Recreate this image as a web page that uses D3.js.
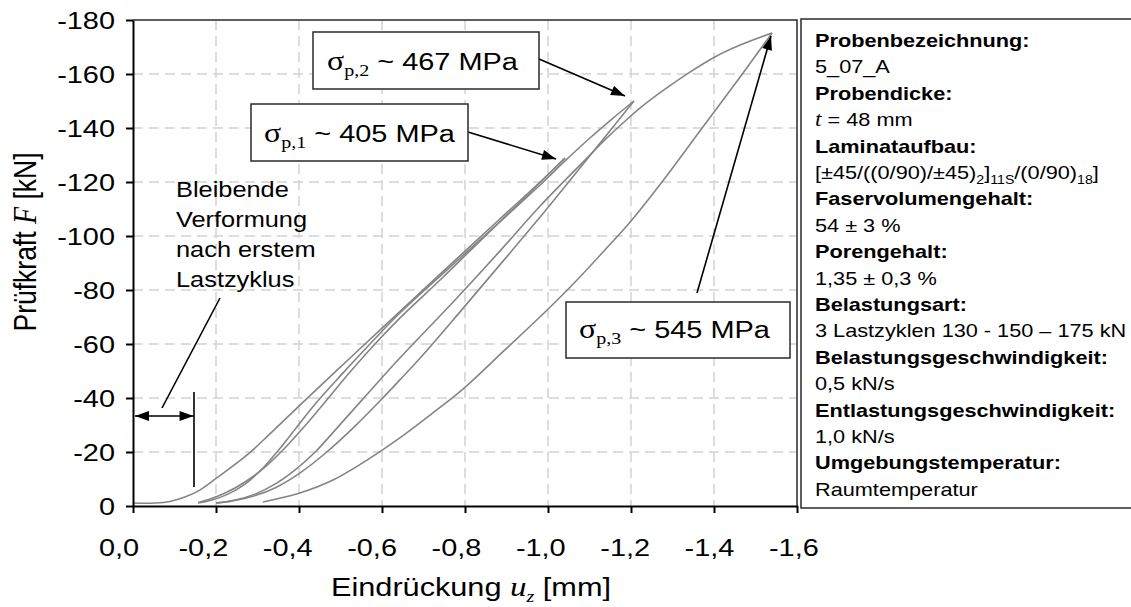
<!DOCTYPE html>
<html><head><meta charset="utf-8">
<script src="https://cdn.jsdelivr.net/npm/d3@7"></script>
<style>body{margin:0;background:#fff}svg{display:block}</style>
</head><body>
<svg id="chart" width="1131" height="607"></svg>
<script>
// ---------- data ----------
const xTicks = [0, -0.2, -0.4, -0.6, -0.8, -1.0, -1.2, -1.4, -1.6];
const yTicks = [0, -20, -40, -60, -80, -100, -120, -140, -160, -180];

// [u_z (mm), F (kN)]
const loading1 = [[0,-1.1],[-0.053,-1.1],[-0.089,-1.7],[-0.125,-3.3],[-0.161,-5.9],[-0.202,-10.4],[-0.275,-18.9],[-0.330,-26.7],[-0.410,-38.5],[-0.523,-54.8],[-0.643,-72.0],[-0.764,-89.3],[-0.884,-106.3],[-0.981,-120.0],[-1.041,-128.9]];
const unloading1 = [[-1.041,-128.9],[-0.933,-112.6],[-0.836,-98.1],[-0.740,-83.7],[-0.643,-69.6],[-0.583,-60.0],[-0.523,-49.6],[-0.467,-39.3],[-0.414,-29.6],[-0.366,-21.5],[-0.318,-14.4],[-0.270,-8.9],[-0.222,-4.8],[-0.186,-2.6],[-0.157,-1.3]];
const loading2 = [[-0.157,-1.1],[-0.190,-2.2],[-0.229,-4.4],[-0.270,-8.1],[-0.311,-13.7],[-0.347,-20.0],[-0.393,-28.9],[-0.439,-37.8],[-0.499,-48.1],[-0.571,-60.0],[-0.643,-71.5],[-0.764,-88.5],[-0.884,-105.2],[-0.981,-118.9],[-1.041,-127.8],[-1.101,-136.3],[-1.154,-143.3],[-1.207,-150.0]];
const unloading2 = [[-1.207,-150.0],[-1.149,-138.9],[-1.077,-125.2],[-0.981,-107.0],[-0.884,-89.3],[-0.788,-71.9],[-0.692,-54.8],[-0.643,-46.7],[-0.595,-38.9],[-0.535,-29.6],[-0.467,-20.0],[-0.402,-12.2],[-0.342,-6.7],[-0.282,-3.3],[-0.234,-1.7],[-0.200,-1.1]];
const loading3 = [[-0.200,-1.1],[-0.246,-2.2],[-0.294,-4.4],[-0.342,-8.1],[-0.390,-13.3],[-0.439,-20.0],[-0.494,-29.3],[-0.552,-39.3],[-0.643,-54.8],[-0.776,-76.3],[-0.884,-94.4],[-0.981,-111.1],[-1.089,-128.1],[-1.137,-135.6],[-1.186,-142.6],[-1.234,-148.9],[-1.282,-154.4],[-1.342,-160.7],[-1.402,-166.3],[-1.463,-170.7],[-1.540,-175.2]];
const unloading3 = [[-1.540,-175.2],[-1.463,-158.9],[-1.366,-138.9],[-1.282,-121.5],[-1.198,-105.2],[-1.137,-94.8],[-1.070,-83.7],[-0.998,-72.6],[-0.896,-57.8],[-0.795,-43.3],[-0.716,-33.7],[-0.643,-25.2],[-0.564,-17.0],[-0.482,-9.6],[-0.402,-4.8],[-0.313,-1.5]];
const curves = [loading1, unloading1, loading2, unloading2, loading3, unloading3];

const legendLabels = ["Probenbezeichnung:", "Probendicke:", "Laminataufbau:", "Faservolumengehalt:", "Porengehalt:", "Belastungsart:", "Belastungsgeschwindigkeit:", "Entlastungsgeschwindigkeit:", "Umgebungstemperatur:"];
// value lines as segments [text, style]; style: "" normal, "it" italic serif, "sub" subscript
const legendValues = [
  [["5_07_A",""]],
  [["t","it"],[" = 48 mm",""]],
  [["[±45/((0/90)/±45)",""],["2","sub"],["]",""],["11S","sub"],["/(0/90)",""],["18","sub"],["]",""]],
  [["54 ± 3 %",""]],
  [["1,35 ± 0,3 %",""]],
  [["3 Lastzyklen 130 - 150 – 175 kN",""]],
  [["0,5 kN/s",""]],
  [["1,0 kN/s",""]],
  [["Raumtemperatur",""]]
];
const stressLabels = [["p,2","~ 467 MPa"],["p,1","~ 405 MPa"],["p,3","~ 545 MPa"]];
const noteLines = ["Bleibende","Verformung","nach erstem","Lastzyklus"];

(function () {
// ---------- layout ----------
const SX = 1.18;           // horizontal text stretch of the original
const SANS = '"Liberation Sans", Arial, sans-serif';
const SERIF = '"Liberation Serif", "Times New Roman", serif';
const pL = 133, pR = 797, pT = 20, pB = 506;

const svg = d3.select('#chart');
const x = d3.scaleLinear().domain([0, -1.6]).range([pL, pR]);
const y = d3.scaleLinear().domain([0, -180]).range([pB, pT]);

function textAt(parent, px, py, size, opts = {}) {
  const g = parent.append('g').attr('transform', `translate(${px},${py}) scale(${SX},1)` + (opts.rotate ? ` rotate(${opts.rotate})` : ''));
  return g.append('text')
    .attr('text-anchor', opts.anchor || 'start')
    .style('font-family', opts.family || SANS)
    .style('font-size', size + 'px')
    .style('font-weight', opts.weight || 'normal')
    .attr('fill', '#000');
}

// grid
const grid = svg.append('g');
grid.selectAll('.gy').data(yTicks.filter(d => d !== 0 && d !== -180)).join('line')
  .attr('x1', pL).attr('x2', pR).attr('y1', d => y(d)).attr('y2', d => y(d))
  .attr('stroke', '#d2d2d2').attr('stroke-width', 1.5).attr('stroke-dasharray', '10,6');
grid.selectAll('.gx').data(xTicks.filter(d => d !== 0 && d !== -1.6)).join('line')
  .attr('x1', d => x(d)).attr('x2', d => x(d)).attr('y1', pT).attr('y2', pB)
  .attr('stroke', '#d2d2d2').attr('stroke-width', 1.5).attr('stroke-dasharray', '10,6');

// frame top / right
svg.append('path').attr('d', `M${pL},${pT}H${pR}V${pB}`).attr('fill', 'none').attr('stroke', '#2a2a2a').attr('stroke-width', 1.5);

// curves
const line = d3.line().x(d => x(d[0])).y(d => y(d[1])).curve(d3.curveCatmullRom.alpha(0.5));
svg.append('g').selectAll('path').data(curves).join('path')
  .attr('d', line).attr('fill', 'none').attr('stroke', '#858585').attr('stroke-width', 1.6);

// axes
const xAxis = svg.append('g').attr('transform', `translate(0,${pB})`)
  .call(d3.axisBottom(x).tickValues(xTicks).tickSize(7).tickSizeOuter(0)
    .tickFormat(d => d.toFixed(1).replace('.', ',')));
const yAxis = svg.append('g').attr('transform', `translate(${pL},0)`)
  .call(d3.axisLeft(y).tickValues(yTicks).tickSize(7).tickSizeOuter(0)
    .tickFormat(d => String(d)));
[xAxis, yAxis].forEach(a => {
  a.select('.domain').attr('stroke', '#000').attr('stroke-width', 2);
  a.selectAll('.tick line').attr('stroke', '#000').attr('stroke-width', 2);
  a.selectAll('.tick text').style('font-family', SANS).style('font-size', '24.5px').attr('fill', '#000');
});
// the original's tick labels drift slightly relative to the ticks
xAxis.selectAll('.tick text').attr('transform', `scale(${SX},1)`)
  .attr('x', d => (0.0164 * x(d) - 16.7) / SX).attr('y', 50).attr('dy', 0);
yAxis.selectAll('.tick text').attr('transform', `scale(${SX},1)`).attr('x', -18 / SX).attr('dy', '0.35em');

// axis titles
const xt = textAt(svg, 471, 596, 26, {anchor: 'middle'});
xt.append('tspan').text('Eindrückung ');
xt.append('tspan').style('font-family', SERIF).style('font-style', 'italic').style('font-size', '28px').text('u');
xt.append('tspan').style('font-family', SERIF).style('font-style', 'italic').style('font-size', '17px').attr('dy', 6).text('z');
xt.append('tspan').attr('dy', -6).text(' [mm]');

const yt = textAt(svg, 36, 242, 26.5, {anchor: 'middle', rotate: -90});
yt.append('tspan').text('Prüfkraft ');
yt.append('tspan').style('font-family', SERIF).style('font-style', 'italic').style('font-size', '28px').text('F');
yt.append('tspan').text(' [kN]');

// markers
const defs = svg.append('defs');
defs.append('marker').attr('id', 'ah').attr('viewBox', '0 0 14 10').attr('refX', 14).attr('refY', 5)
  .attr('markerWidth', 15).attr('markerHeight', 10).attr('markerUnits', 'userSpaceOnUse').attr('orient', 'auto-start-reverse')
  .append('path').attr('d', 'M0,0L14,5L0,10Z').attr('fill', '#000');

// stress boxes
const boxes = [
  {r: [313, 32, 226, 57], tx: 327, ty: 70, arrow: [539, 59, 625, 96]},
  {r: [251, 104, 217, 57], tx: 264, ty: 142, arrow: [468, 132, 556, 159]},
  {r: [566, 302, 224, 56], tx: 579, ty: 338, arrow: [697, 293, 771, 36]}
];
boxes.forEach((b, i) => {
  svg.append('line').attr('x1', b.arrow[0]).attr('y1', b.arrow[1]).attr('x2', b.arrow[2]).attr('y2', b.arrow[3])
    .attr('stroke', '#000').attr('stroke-width', 1.6).attr('marker-end', 'url(#ah)');
  svg.append('rect').attr('x', b.r[0]).attr('y', b.r[1]).attr('width', b.r[2]).attr('height', b.r[3])
    .attr('fill', '#fff').attr('stroke', '#2a2a2a').attr('stroke-width', 1.5);
  const t = textAt(svg, b.tx, b.ty, 24.5);
  t.append('tspan').style('font-family', SERIF).style('font-size', '27px').text('σ');
  t.append('tspan').style('font-family', SERIF).style('font-size', '17px').attr('dy', 6).text(stressLabels[i][0]);
  t.append('tspan').attr('dy', -6).text(' ' + stressLabels[i][1]);
});

// note
noteLines.forEach((s, i) => textAt(svg, 176, 197 + i * 30, 21.5).text(s));
svg.append('line').attr('x1', 220).attr('y1', 298).attr('x2', 162).attr('y2', 408).attr('stroke', '#000').attr('stroke-width', 1.6);
svg.append('line').attr('x1', x(0) + 2).attr('y1', 416).attr('x2', x(-0.146)).attr('y2', 416)
  .attr('stroke', '#000').attr('stroke-width', 1.6).attr('marker-start', 'url(#ah)').attr('marker-end', 'url(#ah)');
svg.append('line').attr('x1', x(-0.147)).attr('x2', x(-0.147)).attr('y1', 392).attr('y2', 487).attr('stroke', '#000').attr('stroke-width', 1.6);

// info box (its right edge lies outside the picture, as in the original)
svg.append('rect').attr('x', 801).attr('y', 19).attr('width', 340).attr('height', 489)
  .attr('fill', '#fff').attr('stroke', '#2a2a2a').attr('stroke-width', 1.5);
const LH = 26.4;
legendLabels.forEach((lab, i) => {
  textAt(svg, 815, 47 + 2 * i * LH, 18.4, {weight: 'bold'}).text(lab);
  const t = textAt(svg, 815, 47 + (2 * i + 1) * LH, 18.4);
  let shift = 0;
  legendValues[i].forEach(([s, st]) => {
    const ts = t.append('tspan').text(s);
    if (st === 'it') ts.style('font-family', SERIF).style('font-style', 'italic').style('font-size', '20px');
    if (st === 'sub') { ts.style('font-size', '12px').attr('dy', 5 - shift); shift = 5; }
    else if (shift) { ts.attr('dy', -shift); shift = 0; }
  });
});
})();
</script>
</body></html>
